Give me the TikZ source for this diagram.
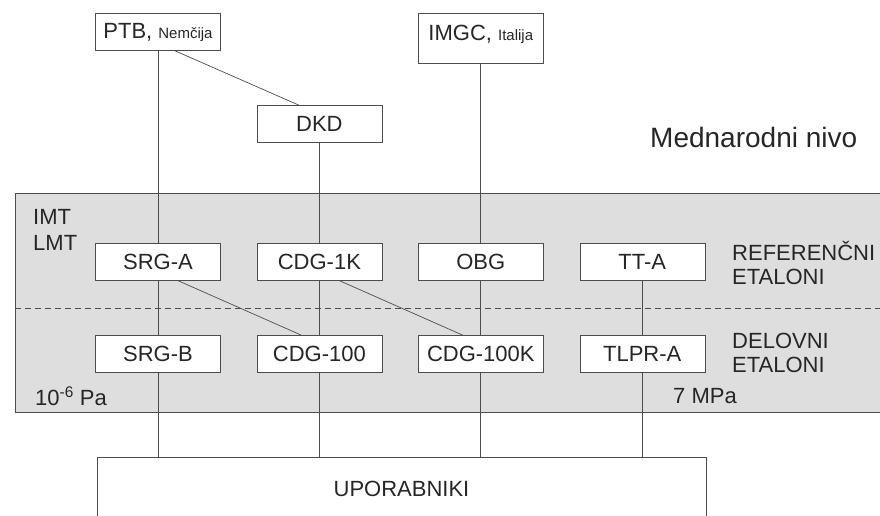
\documentclass[tikz,border=0pt]{standalone}
\usepackage{fontspec}
\setmainfont{Liberation Sans}
\usetikzlibrary{positioning}

\begin{document}
\begin{tikzpicture}[
  x=1pt, y=-1pt,
  box/.style   = {draw=black!70, fill=white, minimum width=125pt, minimum height=37pt, inner sep=0pt, text=black!85, font=\fontsize{22}{24}\selectfont},
  side/.style  = {inner sep=0pt, align=left, text=black!85, font=\fontsize{22}{24}\selectfont},
  link/.style  = {draw=black!70, line width=0.7pt},
  small/.style = {font=\fontsize{15}{16}\selectfont},
  node distance = 55pt and 36pt
]
  \useasboundingbox (0,0) rectangle (880,515);

  % siva plast: IMT / LMT
  \fill[black!13] (15,193) rectangle (880,412);
  \draw[link] (880,193) -- (15,193) -- (15,412) -- (880,412);
  \draw[link, dashed, dash pattern=on 6pt off 4pt] (15,308) -- (880,308);

  % referencni etaloni
  \node[box]                     (srga)   at (158,261.5) {SRG-A};
  \node[box, right=of srga]      (cdgk)   {CDG-1K};
  \node[box, right=of cdgk]      (obg)    {OBG};
  \node[box, right=of obg]       (tta)    {TT-A};
  % delovni etaloni
  \node[box, below=of srga]      (srgb)   {SRG-B};
  \node[box, below=of cdgk]      (cdgh)   {CDG-100};
  \node[box, below=of obg]       (cdghk)  {CDG-100K};
  \node[box, below=of tta]       (tlpra)  {TLPR-A};
  % mednarodni nivo
  \node[box, above=100pt of cdgk] (dkd)   {DKD};
  \node[box, above=192pt of srga] (ptb)   {PTB, {\small\fontsize{15}{16}\selectfont Nem\v{c}ija}};
  \node[box, anchor=north, inner ysep=8pt, text height=19pt, text depth=15pt, minimum height=0pt]
       (imgc) at (ptb.north -| obg) {IMGC, {\fontsize{15}{16}\selectfont Italija}};
  \node[box, anchor=north, minimum width=609pt, text height=39pt, text depth=40pt]
       (user) at (401.5,457) {UPORABNIKI};

  \node[side, anchor=base west, font=\fontsize{28}{30}\selectfont] (mednar) at (650,147) {Mednarodni nivo};
  \node[side, anchor=north west, font=\fontsize{22}{26}\selectfont] (lab) at (33,209) {IMT\\LMT};
  \node[side, anchor=west] (refet) at (732,263) {REFEREN\v{C}NI\\ETALONI};
  \node[side, anchor=west] (delet) at (732,353) {DELOVNI\\ETALONI};
  \node[side, anchor=base west] (pmin) at (35,405) {10\textsuperscript{-6} Pa};
  \node[side, anchor=base west] (pmax) at (673,403) {7 MPa};

  % povezave
  \draw[link] (ptb)   -- (srga);
  \draw[link] (dkd)   -- (cdgk);
  \draw[link] (imgc)  -- (obg);
  \draw[link] ([xshift=17pt]ptb.south) -- ([xshift=-20pt]dkd.north);
  \draw[link] (srga)  -- (srgb);
  \draw[link] (cdgk)  -- (cdgh);
  \draw[link] (obg)   -- (cdghk);
  \draw[link] (tta)   -- (tlpra);
  \draw[link] ([xshift=19pt]srga.south) -- ([xshift=-18pt]cdgh.north);
  \draw[link] ([xshift=19pt]cdgk.south) -- ([xshift=-18pt]cdghk.north);
  \draw[link] (srgb)  -- (srgb |- user.north);
  \draw[link] (cdgh)  -- (cdgh |- user.north);
  \draw[link] (cdghk) -- (cdghk |- user.north);
  \draw[link] (tlpra) -- (tlpra |- user.north);
\end{tikzpicture}
\end{document}
